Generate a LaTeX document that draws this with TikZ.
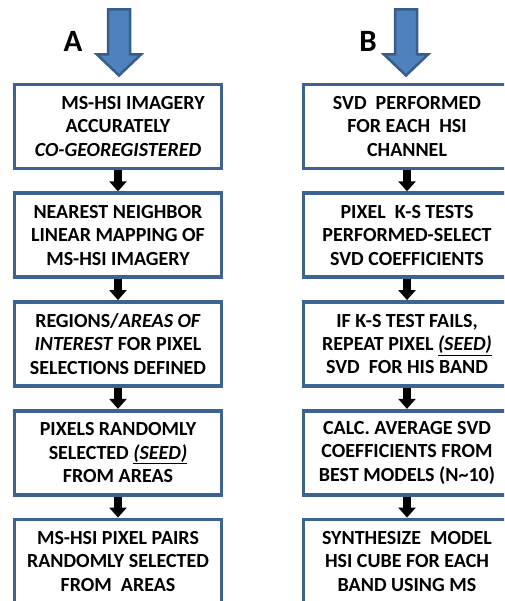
\documentclass[tikz,border=0pt]{standalone}
\usepackage{fontspec}
\setmainfont{Carlito}
\usetikzlibrary{arrows.meta}

\definecolor{boxedge}{RGB}{62,98,146}
\definecolor{arrowfill}{RGB}{79,129,189}
\definecolor{arrowedge}{RGB}{56,93,138}

\newcommand{\seedword}{\underline{\textit{(SEED)}}}

\begin{document}
\begin{tikzpicture}[x=1pt,y=1pt,node distance=108.75pt,
  stage/.style={draw=boxedge,line width=3.8pt,fill=white,minimum width=207pt,minimum height=84pt,
    align=center,inner sep=2pt,font=\fontsize{20}{23.4}\selectfont\bfseries},
  flow/.style={line width=8pt,-{Triangle[width=17pt,length=10pt]}},
  big arrow/.style={draw=arrowedge,fill=arrowfill,line width=2.5pt,line join=miter},
  letter/.style={font=\fontsize{31}{31}\selectfont\bfseries}]
\useasboundingbox (0,0) rectangle (504,-601);
\clip (0,0) rectangle (504,-601);

% column A
\node[stage] (a1) at (118,-126.5) {\hspace*{30pt}MS-HSI IMAGERY\\ ACCURATELY\\ \textit{CO-GEOREGISTERED}};
\node[stage, below of=a1] (a2) {NEAREST NEIGHBOR\\ LINEAR MAPPING OF\\ MS-HSI IMAGERY};
\node[stage, below of=a2] (a3) {REGIONS/\textit{AREAS OF}\\ \textit{INTEREST} FOR PIXEL\\ SELECTIONS DEFINED};
\node[stage, below of=a3] (a4) {PIXELS RANDOMLY\\ SELECTED \seedword\\ FROM AREAS};
\node[stage, below of=a4] (a5) {MS-HSI PIXEL PAIRS\\ RANDOMLY SELECTED\\ FROM\ \ AREAS};

% column B
\node[stage] (b1) at (407,-126.5) {SVD\ \ PERFORMED\\ FOR EACH\ \ HSI\\ CHANNEL};
\node[stage, below of=b1] (b2) {PIXEL\ \ K-S TESTS\\ PERFORMED-SELECT\\ SVD COEFFICIENTS};
\node[stage, below of=b2] (b3) {IF K-S TEST FAILS,\\ REPEAT PIXEL \seedword\\ SVD\ \ FOR HIS BAND};
\node[stage, below of=b3] (b4) {CALC. AVERAGE SVD\\ COEFFICIENTS FROM\\ BEST MODELS (N\textasciitilde10)};
\node[stage, below of=b4] (b5) {SYNTHESIZE\ \ MODEL\\ HSI CUBE FOR EACH\\ BAND USING MS};

\node[letter] (labA) at (73,-41) {A};
\node[letter] (labB) at (368,-41) {B};

% big input arrows
\coordinate (tipA) at (119,-75.5);
\coordinate (tipB) at (406,-75.5);
\draw[big arrow] (tipA) -- ++(-22,21) -- ++(11,0) -- ++(0,45) -- ++(22,0) -- ++(0,-45) -- ++(11,0) -- cycle;
\draw[big arrow] (tipB) -- ++(-22,21) -- ++(11,0) -- ++(0,45) -- ++(22,0) -- ++(0,-45) -- ++(11,0) -- cycle;

\path
(a1) edge[flow] (a2)
(a2) edge[flow] (a3)
(a3) edge[flow] (a4)
(a4) edge[flow] (a5)
(b1) edge[flow] (b2)
(b2) edge[flow] (b3)
(b3) edge[flow] (b4)
(b4) edge[flow] (b5);
\end{tikzpicture}
\end{document}
